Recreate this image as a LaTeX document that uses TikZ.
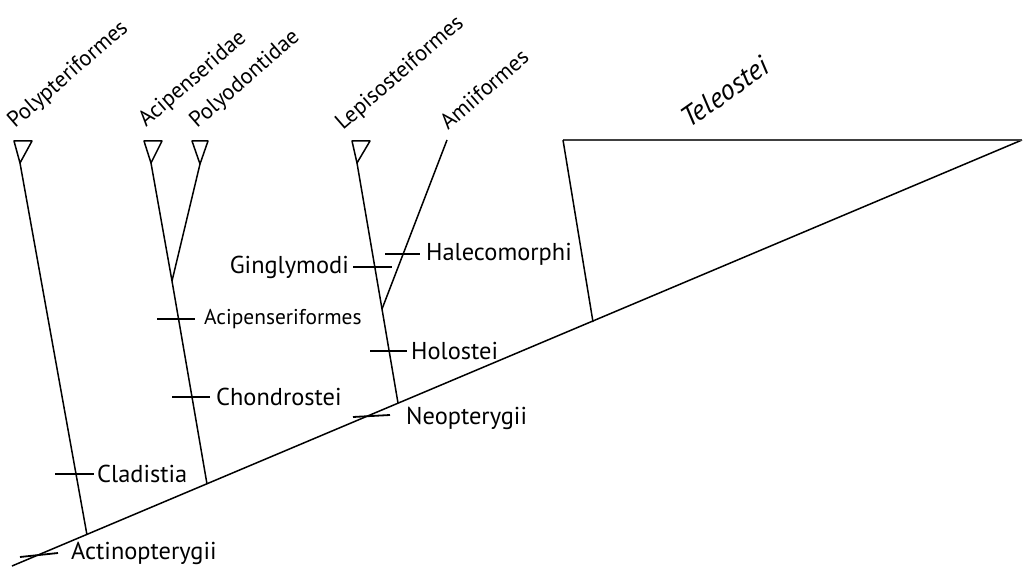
\documentclass[tikz,border=0pt]{standalone}
\usepackage{fontspec}
\setmainfont{PT Sans}
\begin{document}
\begin{tikzpicture}[x=1bp,y=-1bp,
  branch/.style={line width=1.5bp, line join=round},
  tick/.style={line width=1.8bp},
  lab/.style={inner sep=0pt, font=\fontsize{24.5}{28}\selectfont},
  smalllab/.style={inner sep=0pt, font=\fontsize{21.5}{25}\selectfont},
  taxon/.style={inner sep=0pt, anchor=base west, rotate=41, font=\fontsize{22.5}{26}\selectfont}]
\useasboundingbox (0,0) rectangle (1025,573);
% backbone
\coordinate (root) at (12,566);
\coordinate (tip) at (1022,140);
% Teleostei
\coordinate (telL) at (563,140);
\coordinate (telB) at (593,322);
% Polypteriformes
\coordinate (polyA) at (14,141); \coordinate (polyB) at (32,141); \coordinate (polyC) at (20,163);
\coordinate (polyBase) at (87,535);
% Acipenseridae / Polyodontidae
\coordinate (aciA) at (144,141); \coordinate (aciB) at (162,141); \coordinate (aciC) at (151,163);
\coordinate (pdoA) at (192,141); \coordinate (pdoB) at (208,141); \coordinate (pdoC) at (200,164);
\coordinate (chJ) at (172,281);
\coordinate (chBase) at (207,484);
% Lepisosteiformes / Amiiformes
\coordinate (lepA) at (352,141); \coordinate (lepB) at (370,141); \coordinate (lepC) at (357,163);
\coordinate (amiT) at (447,140);
\coordinate (hoJ) at (382,309);
\coordinate (hoBase) at (398,403);

\draw[branch] (root) -- (tip);
\draw[branch, line width=2.2bp, draw=black!75] (telL) -- (tip);
\draw[branch] (telL) -- (telB);
\draw[branch] (polyA) -- (polyB) -- (polyC) -- cycle;
\draw[branch] (polyC) -- (polyBase);
\draw[branch] (aciA) -- (aciB) -- (aciC) -- cycle;
\draw[branch] (pdoA) -- (pdoB) -- (pdoC) -- cycle;
\draw[branch] (aciC) -- (chJ);
\draw[branch] (pdoC) -- (chJ);
\draw[branch] (chJ) -- (chBase);
\draw[branch] (lepA) -- (lepB) -- (lepC) -- cycle;
\draw[branch] (lepC) -- (hoJ) -- (hoBase);
\draw[branch] (amiT) -- (hoJ);

% ticks
\coordinate (t1a) at (55,474); \coordinate (t1b) at (94,474);
\coordinate (t2a) at (172,397); \coordinate (t2b) at (210,397);
\coordinate (t3a) at (157,319); \coordinate (t3b) at (195,319);
\coordinate (t4a) at (385,254); \coordinate (t4b) at (420,254);
\coordinate (t5a) at (353,267); \coordinate (t5b) at (392,267);
\coordinate (t6a) at (370,351); \coordinate (t6b) at (407,351);
\coordinate (t7a) at (353,417); \coordinate (t7b) at (390,415);
\coordinate (t8a) at (20,557); \coordinate (t8b) at (58,553);
\foreach \t in {1,...,8} \draw[tick] (t\t a) -- (t\t b);

% clade labels
\node[lab, anchor=west] (cladistia) at (97,474) {Cladistia};
\node[lab, anchor=west] (chondrostei) at (216,397) {Chondrostei};
\node[smalllab, anchor=west] (acipenseriformes) at (204,319) {Acipenseriformes};
\node[lab, anchor=west] (halecomorphi) at (426,254) {Halecomorphi};
\node[lab, anchor=east] (ginglymodi) at (349,267) {Ginglymodi};
\node[lab, anchor=west] (holostei) at (411,351) {Holostei};
\node[lab, anchor=west] (neopterygii) at (406,418) {Neopterygii};
\node[lab, anchor=west] (actinopterygii) at (71,553) {Actinopterygii};

% taxa
\node[taxon] (tPoly) at (15,129) {Polypteriformes};
\node[taxon] (tAci) at (146,128) {Acipenseridae};
\node[taxon] (tPdo) at (197,129) {Polyodontidae};
\node[taxon] (tLep) at (343,131) {Lepisosteiformes};
\node[taxon] (tAmi) at (448,131) {Amiiformes};
\node[inner sep=0pt, anchor=base west, rotate=35, font=\fontsize{28.5}{32}\selectfont\itshape] (tTel) at (689,129) {Teleostei};
\end{tikzpicture}
\end{document}
